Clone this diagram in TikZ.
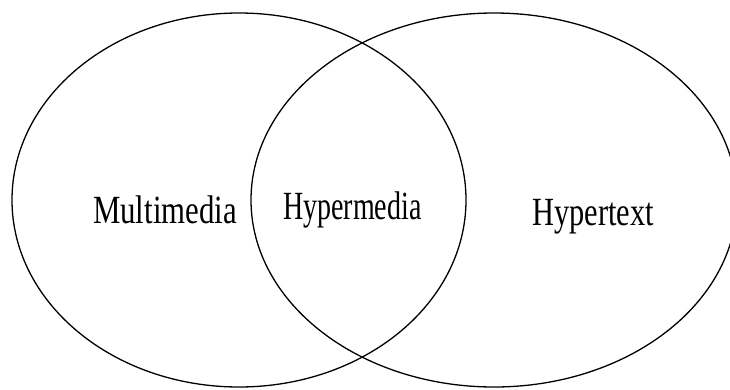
\documentclass[tikz,border=0pt]{standalone}
\usepackage{fontspec}
\setmainfont{Liberation Serif}
\begin{document}
\begin{tikzpicture}[x=1pt,y=-1pt,
  setring/.style={draw=black,line width=1.3pt},
  setlabel/.style={inner sep=0pt,anchor=base west,font=\fontsize{40}{44}\selectfont}]
\useasboundingbox (0,0) rectangle (730,389);
\begin{scope}
\clip (0,0) rectangle (730,389);
\draw[setring] (239,200) ellipse [x radius=227,y radius=187];
\draw[setring] (494,200) ellipse [x radius=243,y radius=187];
\end{scope}
\node[setlabel,xscale=0.77] (multi) at (93,223) {Multimedia};
\node[setlabel,xscale=0.70] (hyperm) at (283,219) {Hypermedia};
\node[setlabel,xscale=0.76] (hypert) at (532,225) {Hypertext};
\end{tikzpicture}
\end{document}
